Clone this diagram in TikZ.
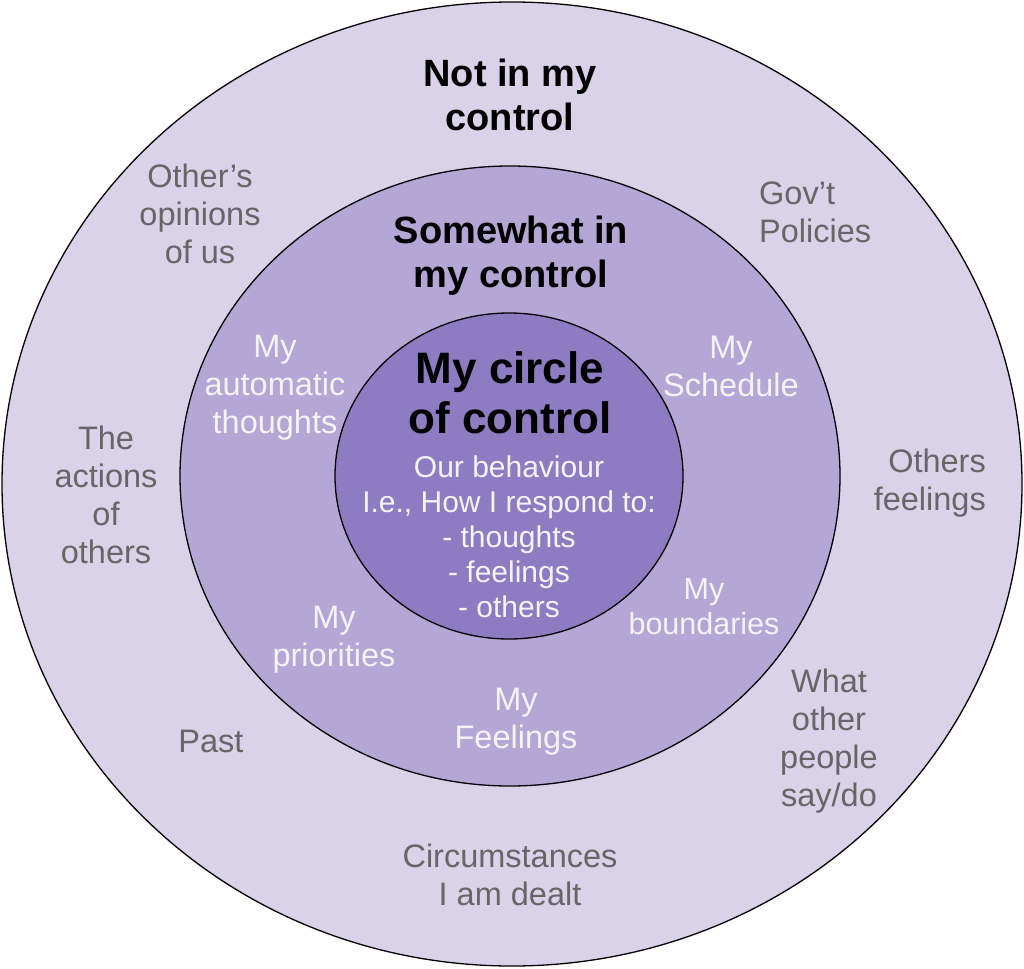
\documentclass[tikz,border=0pt]{standalone}
\usepackage{fontspec}
\setmainfont{Liberation Sans}
\usepackage{xcolor}
\usetikzlibrary{positioning}
\definecolor{cpurple3}{HTML}{D9D2E9}
\definecolor{cpurple2}{HTML}{B4A7D6}
\definecolor{cpurple1}{HTML}{8E7CC3}
\definecolor{cgray}{HTML}{666666}
\definecolor{cwhite}{HTML}{F3F3F3}

\begin{document}
\begin{tikzpicture}[
    x=1pt, y=-1pt,
    ring/.style={draw=black, line width=1.3pt},
    headtxt/.style={font=\fontsize{38}{44}\selectfont\bfseries, align=center, inner sep=0pt},
    outtxt/.style={text=cgray, font=\fontsize{32.5}{38}\selectfont, align=center, inner sep=0pt},
    midtxt/.style={text=cwhite, font=\fontsize{32.5}{38}\selectfont, align=center, inner sep=0pt},
]
    \useasboundingbox (0,0) rectangle (1024,968);

    % The three rings
    \draw[ring, fill=cpurple3] (512,484) ellipse [x radius=510, y radius=482];
    \draw[ring, fill=cpurple2] (510,476) ellipse [x radius=330, y radius=310];
    \draw[ring, fill=cpurple1] (509,476) ellipse [x radius=174, y radius=163];

    % Not in my control
    \node[headtxt] (notctrl) at (510,95) {Not in my\\control};
    \node[outtxt] (opinions) at (200,214) {Other’s\\opinions\\of us};
    \node[outtxt, align=left, anchor=west] (govt) at (759,212) {Gov’t\\Policies};
    \node[outtxt] (actions) at (106,495) {The\\actions\\of\\others};
    \node[outtxt, align=right, anchor=east] (othfeel) at (986,483) {Others\\feelings};
    \node[outtxt] (past) at (211,741) {Past};
    \node[outtxt] (saydo) at (829,741) {What\\other\\people\\say/do};
    \node[outtxt] (circum) at (510,875) {Circumstances\\I am dealt};

    % Somewhat in my control
    \node[headtxt] (somectrl) at (511,256) {Somewhat in\\my control};
    \node[midtxt] (autothk) at (275,388) {My\\automatic\\thoughts};
    \node[midtxt] (sched) at (731,366) {My\\Schedule};
    \node[midtxt, font=\fontsize{30.5}{35}\selectfont] (bound) at (704,607) {My\\boundaries};
    \node[midtxt] (prio) at (334,640) {My\\priorities};
    \node[midtxt] (myfeel) at (516,722) {My\\Feelings};

    % My circle of control
    \node[headtxt, font=\fontsize{44}{50}\selectfont\bfseries] (myctrl) at (510,393) {My circle\\of control};
    \node[text=cwhite, font=\fontsize{30}{35}\selectfont, align=center, inner sep=0pt] (behav) at (509,537)
        {Our behaviour\\I.e., How I respond to:\\- thoughts\\- feelings\\- others};
\end{tikzpicture}
\end{document}
